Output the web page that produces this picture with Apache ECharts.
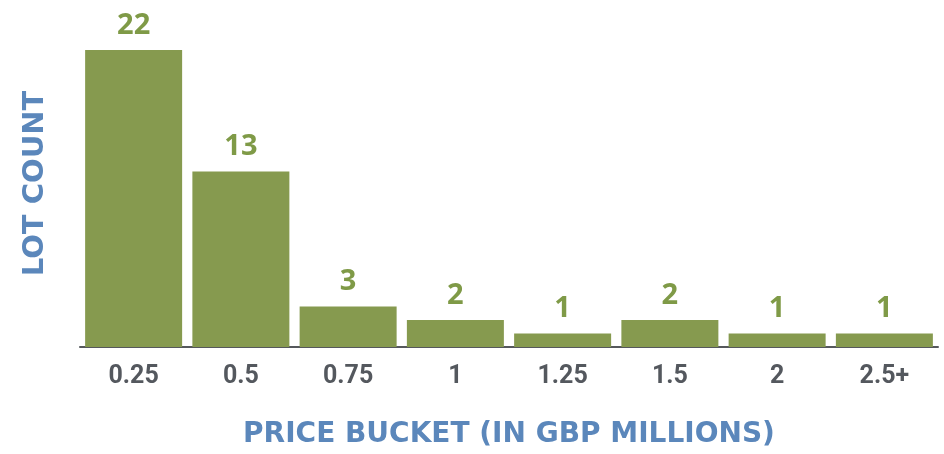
<!DOCTYPE html>
<html>
<head>
<meta charset="utf-8">
<script src="https://cdn.jsdelivr.net/npm/echarts@6/dist/echarts.min.js"></script>
<style>
  html, body { margin: 0; padding: 0; background: #fff; }
  #chart { width: 944px; height: 454px; }
</style>
</head>
<body>
<div id="chart"></div>
<script>
var buckets = ['0.25', '0.5', '0.75', '1', '1.25', '1.5', '2', '2.5+']
var lotCounts = [22, 13, 3, 2, 1, 2, 1, 1]

var chart = echarts.init(document.getElementById('chart'))
var option = {
  animation: false,
  grid: { left: 80, right: 6, top: 50, bottom: 107 },
  xAxis: {
    type: 'category',
    data: buckets,
    name: 'PRICE BUCKET (IN GBP MILLIONS)',
    nameLocation: 'middle',
    nameGap: 74,
    nameTextStyle: { color: '#5b87bb', fontFamily: 'DejaVu Sans', fontWeight: 'bold', fontSize: 28 },
    axisLine: { lineStyle: { color: '#55585c', width: 2 } },
    axisTick: { show: false },
    axisLabel: { color: '#54585e', fontFamily: 'Roboto', fontWeight: 'bold', fontSize: 25, margin: 17 }
  },
  yAxis: {
    type: 'value',
    min: 0,
    max: 22,
    name: 'LOT COUNT',
    nameLocation: 'middle',
    nameGap: 30,
    // shift the title up a little, as in the original
    nameTextStyle: { color: '#5b87bb', fontFamily: 'DejaVu Sans', fontWeight: 'bold', fontSize: 29, padding: [0, 0, 0, 30] },
    axisLine: { show: false },
    axisTick: { show: false },
    axisLabel: { show: false },
    splitLine: { show: false }
  },
  series: [
    {
      type: 'bar',
      data: lotCounts,
      barWidth: 97,
      itemStyle: { color: '#869a4f' },
      label: {
        show: true,
        position: 'top',
        distance: 10,
        color: '#7f9a47',
        fontFamily: 'Open Sans',
        fontWeight: 'bold',
        fontSize: 29
      }
    }
  ]
}
chart.setOption(option)
</script>
</body>
</html>
